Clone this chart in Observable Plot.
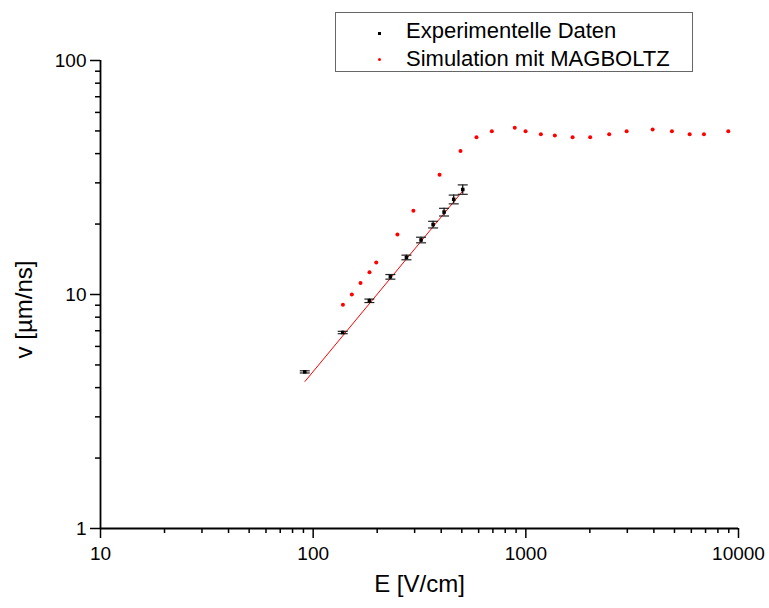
<!DOCTYPE html>
<html>
<head>
<meta charset="utf-8">
<script src="https://cdn.jsdelivr.net/npm/d3@7"></script>
<script src="https://cdn.jsdelivr.net/npm/@observablehq/plot@0.6"></script>
<style>
  html, body { margin: 0; padding: 0; background: #fff; }
  #wrap { position: relative; width: 769px; height: 608px; font-family: "Liberation Sans", Arial, sans-serif; }
  #legend { position: absolute; left: 335px; top: 12px; width: 356px; height: 58px; border: 1px solid #666; background: #fff; }
  .row { position: absolute; left: 70px; font-size: 22px; line-height: 27px; color: #000; white-space: nowrap; }
  .mk { position: absolute; }
</style>
</head>
<body>
<div id="wrap"></div>
<script>
// Experimental data (E in V/cm, v in µm/ns, error in µm/ns)
const expE   = [91.3, 137.7, 183.8, 230.7, 274.5, 321.6, 366.4, 412.6, 458, 505];
const expV   = [4.67, 6.88, 9.4, 11.9, 14.4, 17.1, 19.9, 22.5, 25.5, 28.1];
const expErr = [0.05, 0.08, 0.16, 0.27, 0.33, 0.47, 0.65, 0.85, 1.1, 1.3];

// MAGBOLTZ simulation
const simE = [138, 152, 167, 184, 198, 249, 296, 393, 493, 586, 692, 887, 997, 1177, 1369, 1659, 2007, 2466, 2978, 3947, 4864, 5893, 6880, 8954];
const simV = [9.04, 10.0, 11.2, 12.45, 13.7, 18.05, 22.8, 32.5, 41.0, 47.0, 49.9, 51.6, 49.9, 48.4, 47.8, 47.0, 47.0, 48.4, 49.9, 50.7, 49.9, 48.4, 48.4, 49.9];

// Power-law fit line endpoints
const fitE = [91.5, 510];
const fitV = [4.25, 28.0];

// Ticks
const xMajor = [10, 100, 1000, 10000];
const yMajor = [1, 10, 100];
const minors = (lo, hi) => { const a = []; for (let d = lo; d < hi; d *= 10) for (let k = 2; k <= 9; k++) a.push(d * k); return a; };
const xMinor = minors(10, 10000);
const yMinor = minors(1, 100);

const legendLabels = ["Experimentelle Daten", "Simulation mit MAGBOLTZ"];
const xTitle = "E [V/cm]";
const yTitle = "v [µm/ns]";

const expData = expE.map((E, i) => ({E, v: expV[i], lo: expV[i] - expErr[i], hi: expV[i] + expErr[i]}));
const simData = simE.map((E, i) => ({E, v: simV[i]}));
const fitData = fitE.map((E, i) => ({E, v: fitV[i]}));

const capSymbol = { draw(ctx) { ctx.moveTo(-5, 0); ctx.lineTo(5, 0); } };

const chart = Plot.plot({
  width: 769,
  height: 608,
  marginLeft: 100,
  marginRight: 31,
  marginTop: 60,
  marginBottom: 80,
  style: { fontFamily: "'Liberation Sans', Arial, sans-serif", color: "#000", background: "#fff" },
  x: { type: "log", domain: [10, 10000] },
  y: { type: "log", domain: [1, 100] },
  marks: [
    Plot.axisX(xMinor, { tickSize: 5, fill: "none", label: null, strokeWidth: 1.5 }),
    Plot.axisX(xMajor, { tickSize: 10, tickPadding: 8, fontSize: 19, label: null, strokeWidth: 1.5, tickFormat: d => String(d) }),
    Plot.axisY(yMinor, { tickSize: 5, fill: "none", label: null, strokeWidth: 1.5 }),
    Plot.axisY(yMajor, { tickSize: 10, tickPadding: 4, fontSize: 19, label: null, strokeWidth: 1.5, tickFormat: d => String(d) }),
    Plot.ruleY([1], { stroke: "#000", strokeWidth: 1.8 }),
    Plot.ruleX([10], { stroke: "#000", strokeWidth: 1.8 }),
    Plot.line(fitData, { x: "E", y: "v", stroke: "#ff0000", strokeWidth: 1 }),
    Plot.ruleX(expData, { x: "E", y1: "lo", y2: "hi", stroke: "#000", strokeWidth: 1.2 }),
    Plot.dot(expData, { x: "E", y: "lo", symbol: capSymbol, r: 1, stroke: "#222", strokeWidth: 1.2, fill: "none" }),
    Plot.dot(expData, { x: "E", y: "hi", symbol: capSymbol, r: 1, stroke: "#222", strokeWidth: 1.2, fill: "none" }),
    Plot.dot(expData, { x: "E", y: "v", symbol: "square", r: 2, fill: "#000", stroke: "none" }),
    Plot.dot(simData, { x: "E", y: "v", r: 2, fill: "#ff0000", stroke: "none" }),
    Plot.text([xTitle], { frameAnchor: "bottom", dy: 63, fontSize: 24, textAnchor: "middle" }),
    Plot.text([yTitle], { frameAnchor: "left", dx: -76, dy: 15, rotate: -90, fontSize: 24, textAnchor: "middle" })
  ]
});

const wrap = document.getElementById("wrap");
wrap.appendChild(chart);

const legend = document.createElement("div");
legend.id = "legend";
const markers = [
  { css: "left:42px;top:19px;width:3px;height:3px;background:#000;" },
  { css: "left:42px;top:45px;width:3px;height:3px;background:#ff0000;border-radius:50%;" }
];
legendLabels.forEach((t, i) => {
  const m = document.createElement("div");
  m.className = "mk";
  m.style.cssText = markers[i].css;
  legend.appendChild(m);
  const r = document.createElement("div");
  r.className = "row";
  r.style.top = (4 + i * 27.5) + "px";
  r.textContent = t;
  legend.appendChild(r);
});
wrap.appendChild(legend);
</script>
</body>
</html>
